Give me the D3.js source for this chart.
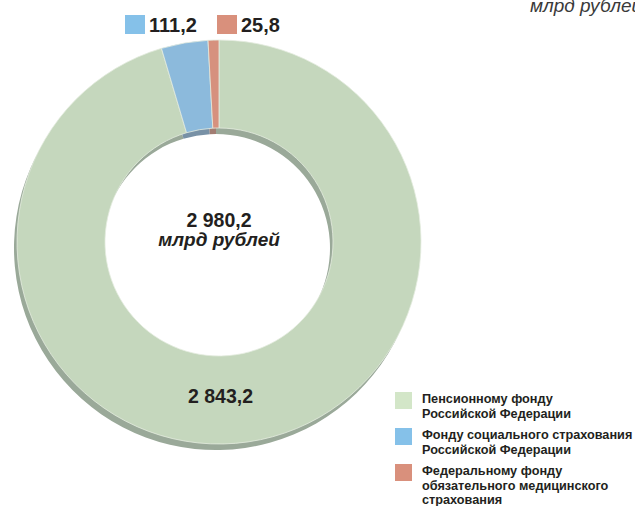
<!DOCTYPE html>
<html>
<head>
<meta charset="utf-8">
<script src="https://cdn.jsdelivr.net/npm/d3@7"></script>
<style>
  body { margin: 0; background: #fff; }
  svg { display: block; font-family: "Liberation Sans", Arial, sans-serif; }
</style>
</head>
<body>
<svg id="chart" width="635" height="506"></svg>
<script>
// data
const funds = ['pension', 'social', 'medical'];
const values = [2843.2, 111.2, 25.8];
const valueLabels = ['2 843,2', '111,2', '25,8'];
const legendLines = [
    ['Пенсионному фонду', 'Российской Федерации'],
    ['Фонду социального страхования', 'Российской Федерации'],
    ['Федеральному фонду', 'обязательного медицинского', 'страхования']
];
const totalLabel = '2 980,2';
const unitLabel = 'млрд рублей';

const topColors = ['#c5d7bd', '#8cbadc', '#d6917e'];
const sideColors = ['#9aa999', '#7891a6', '#a27d72'];
const swatchColors = ['#d3e6c8', '#85c1e9', '#d9907c'];

const svg = d3.select('#chart');

const CX = 219, CY = 242;
const R_OUT = 202, R_IN = 114;
const DX = -3, DY = 6;

const pieData = d3.pie().sort(null).value(d => d)(values);
const arc = d3.arc().innerRadius(R_IN).outerRadius(R_OUT);

// side wall layer
const sideLayer = svg.append('g').attr('transform', `translate(${CX + DX},${CY + DY})`);
sideLayer.selectAll('path')
    .data(pieData)
    .enter()
    .append('path')
    .attr('d', arc)
    .attr('fill', (d, i) => sideColors[i]);

// top surface
const topLayer = svg.append('g').attr('transform', `translate(${CX},${CY})`);
topLayer.selectAll('path')
    .data(pieData)
    .enter()
    .append('path')
    .attr('d', arc)
    .attr('fill', (d, i) => topColors[i])
    .attr('stroke', '#e4ece0')
    .attr('stroke-width', 0.8);

// center label
svg.append('text')
    .text(totalLabel)
    .attr('x', CX)
    .attr('y', 227)
    .attr('text-anchor', 'middle')
    .attr('font-size', 19.5)
    .attr('font-weight', 'bold')
    .attr('fill', '#231f20');
svg.append('text')
    .text(unitLabel)
    .attr('x', CX)
    .attr('y', 246)
    .attr('text-anchor', 'middle')
    .attr('font-size', 19)
    .attr('font-weight', 'bold')
    .attr('font-style', 'italic')
    .attr('fill', '#231f20');

// pension value inside ring
svg.append('text')
    .text(valueLabels[0])
    .attr('x', CX + 1.5)
    .attr('y', 403)
    .attr('text-anchor', 'middle')
    .attr('font-size', 19.5)
    .attr('font-weight', 'bold')
    .attr('fill', '#231f20');

// small slice values on top
const topKeys = [
    {i: 1, x: 125},
    {i: 2, x: 217}
];
topKeys.forEach(k => {
    svg.append('rect')
        .attr('x', k.x)
        .attr('y', 15)
        .attr('width', 20)
        .attr('height', 19)
        .attr('fill', swatchColors[k.i]);
    svg.append('text')
        .text(valueLabels[k.i])
        .attr('x', k.x + 24)
        .attr('y', 32)
        .attr('font-size', 20)
        .attr('font-weight', 'bold')
        .attr('fill', '#231f20');
});

// unit in top right corner (cut by the edge, as in the source layout)
svg.append('text')
    .text(unitLabel)
    .attr('x', 530)
    .attr('y', 12)
    .attr('font-size', 19)
    .attr('font-style', 'italic')
    .attr('fill', '#3a3a3a');

// legend
const legendY = [392, 428, 464];
funds.forEach((f, i) => {
    svg.append('rect')
        .attr('x', 395)
        .attr('y', legendY[i])
        .attr('width', 17)
        .attr('height', 17)
        .attr('fill', swatchColors[i]);
    legendLines[i].forEach((line, j) => {
        svg.append('text')
            .text(line)
            .attr('x', 422)
            .attr('y', legendY[i] + 11 + j * 14.5)
            .attr('font-size', 12.7)
            .attr('font-weight', 'bold')
            .attr('fill', '#231f20');
    });
});
</script>
</body>
</html>
